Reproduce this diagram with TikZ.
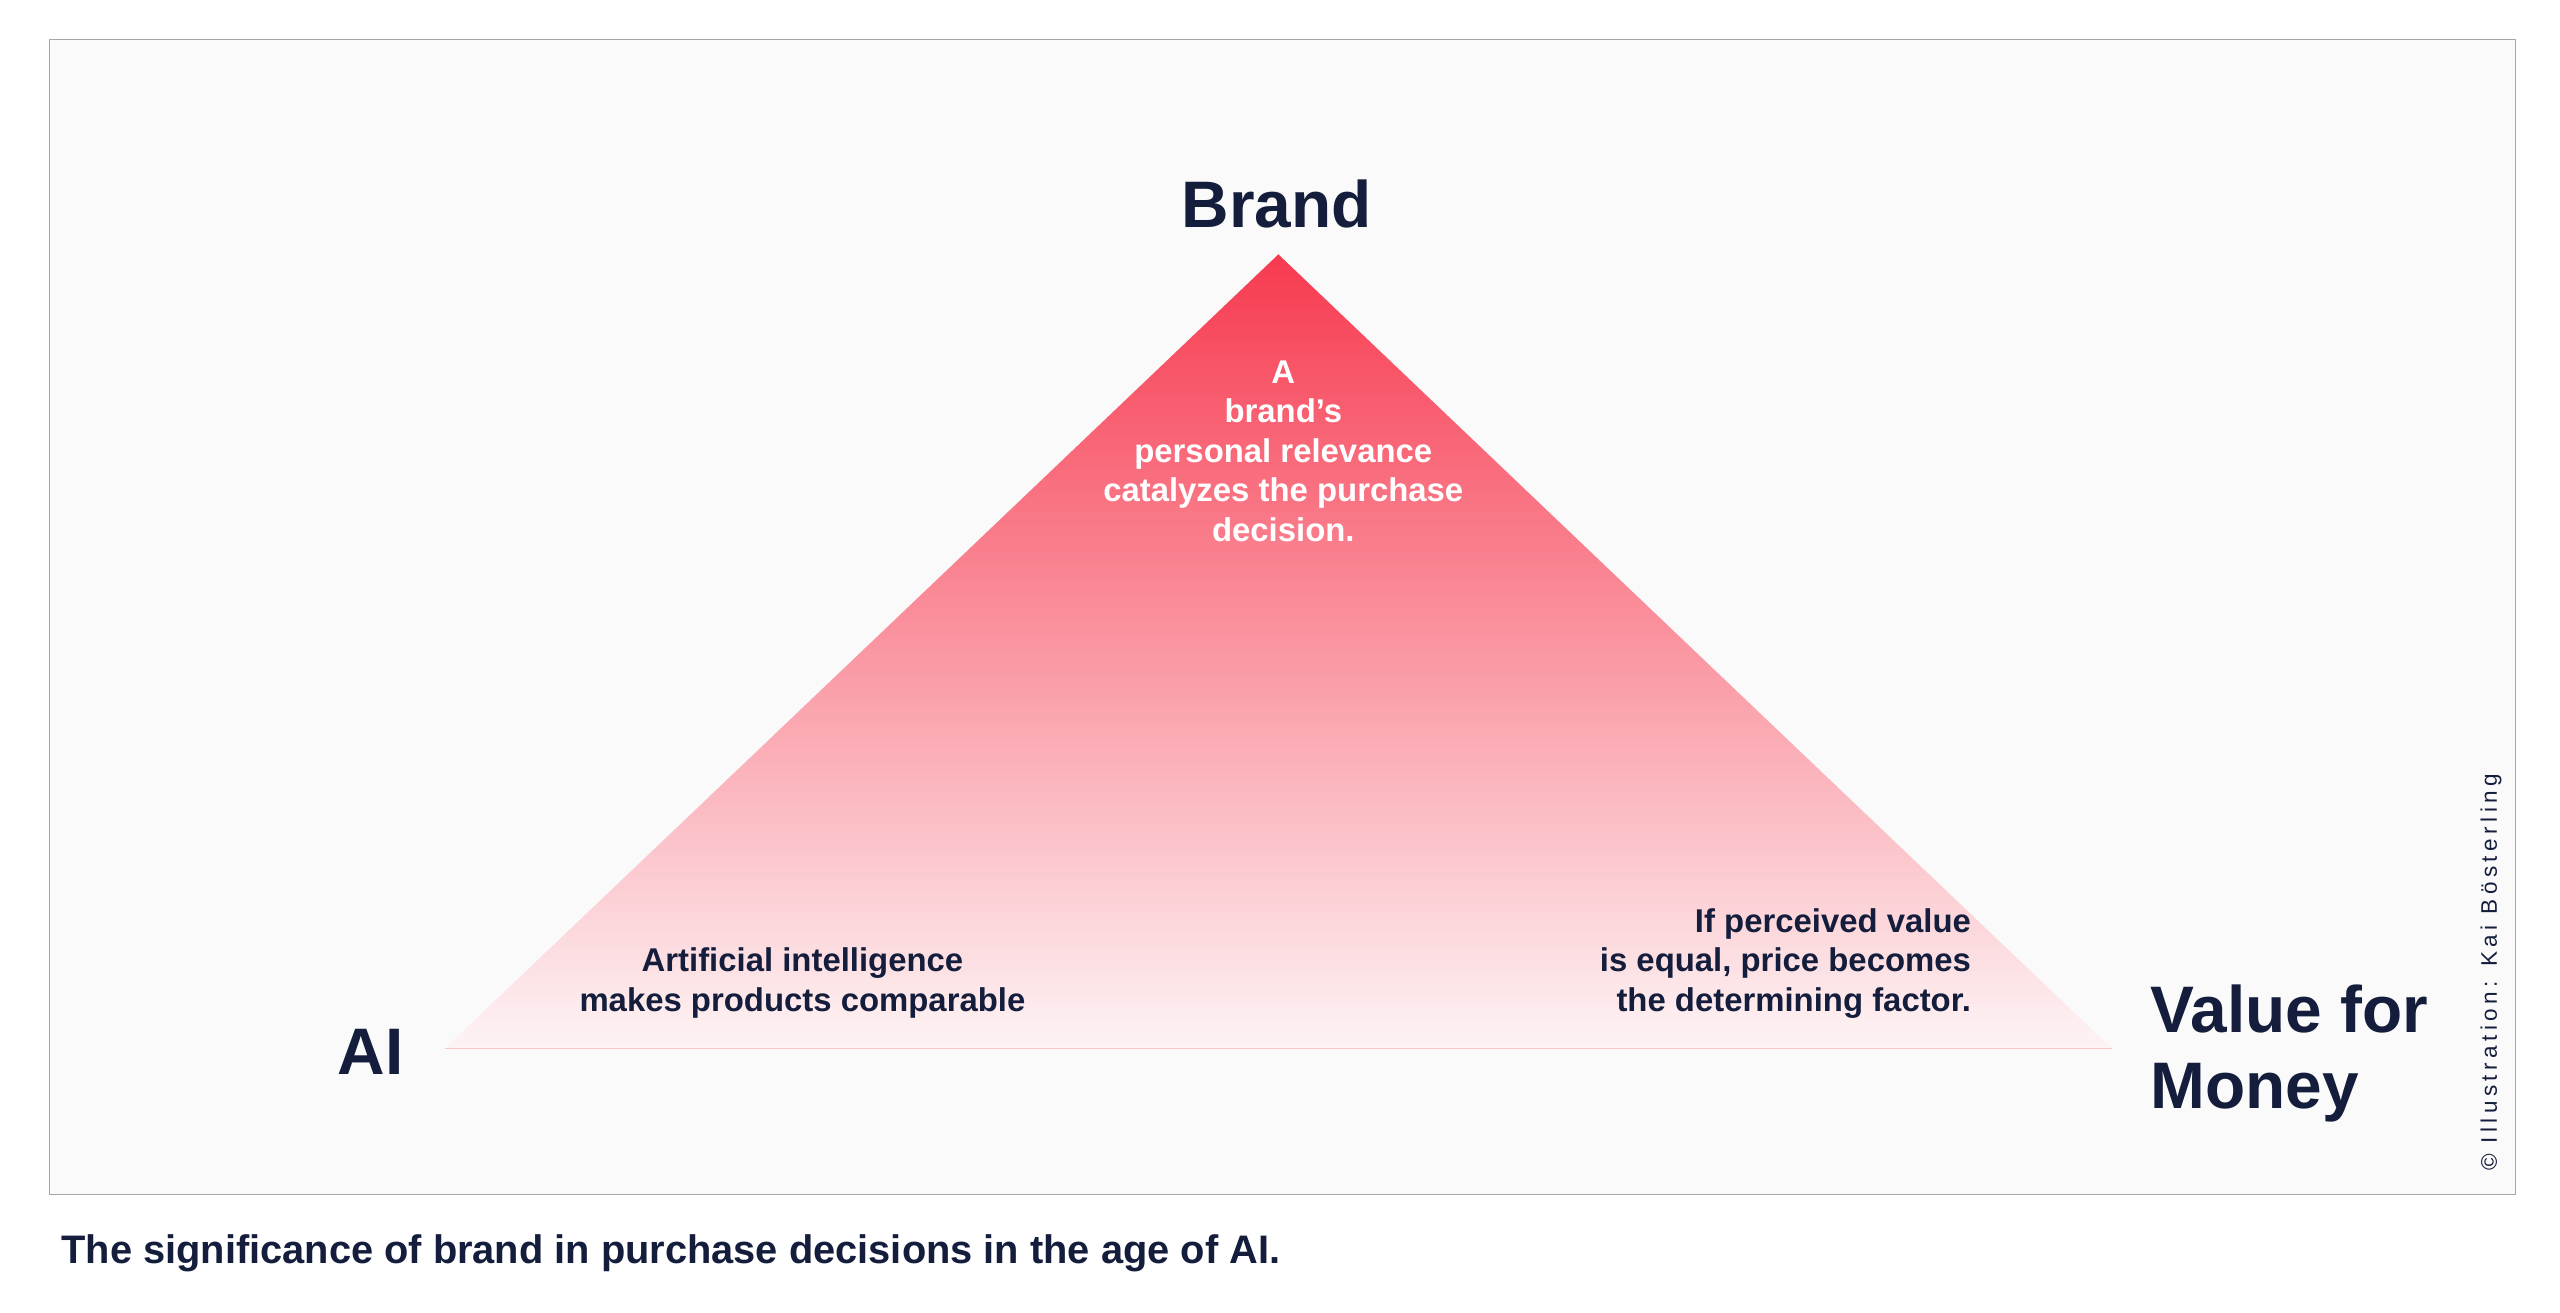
\documentclass[tikz,border=0pt]{standalone}
\usepackage{fontspec}
\setmainfont{Liberation Sans}
\usetikzlibrary{positioning}
\definecolor{ink}{HTML}{141E3C}
\definecolor{brandred}{HTML}{F73A50}
\definecolor{palered}{HTML}{FDF4F5}
\definecolor{panel}{HTML}{FAFAFA}
\tikzset{
  corner/.style={font=\bfseries\fontsize{19}{22}\selectfont, text=ink},
  inner/.style={font=\bfseries\fontsize{9.5}{11.4}\selectfont, align=center},
}
\begin{document}
\begin{tikzpicture}[x=0.016667cm, y=-0.016667cm]
            \useasboundingbox (0,0) rectangle (1560,800);
            \fill[white] (0,0) rectangle (1560,800);
            \draw[gray!70, fill=panel] (30,24) rectangle (1533,728);
            % triangle
            \coordinate (top) at (779,155);
            \coordinate (left) at (271,639);
            \coordinate (right) at (1287,639);
            \shade[top color=brandred, bottom color=palered] (top) -- (right) -- (left) -- cycle;
            \draw[brandred!30, line width=0.3pt] (left) -- (right);

            \node[corner] (brand) at (778,124) {Brand};
            \node[corner] (ai) at (226,641) {AI};
            \node[corner, anchor=west, align=left, font=\bfseries\fontsize{19}{22.2}\selectfont] (vfm) at (1303,642) {Value for\\Money};

            \node[inner, text=white] (brandtxt) at (782,275) {A\\brand’s\\personal relevance\\catalyzes the purchase\\decision.};
            \node[inner, text=ink] (aitxt) at (489,599) {Artificial intelligence\\makes products comparable};
            \node[inner, text=ink, align=right] (vfmtxt) at (1088,587) {If perceived value\hspace{1.3em}\\is equal, price becomes\hspace{0.6em}\\the determining factor.};

            \node[rotate=90, text=ink, font=\fontsize{6.5}{8}\selectfont, anchor=west] (credit) at (1518,721) {\addfontfeature{LetterSpace=20}© Illustration: Kai Bösterling};
            \node[anchor=west, text=ink, font=\bfseries\fontsize{11.5}{14}\selectfont] (caption) at (30,764) {The significance of brand in purchase decisions in the age of AI.};
        \end{tikzpicture}
\end{document}
